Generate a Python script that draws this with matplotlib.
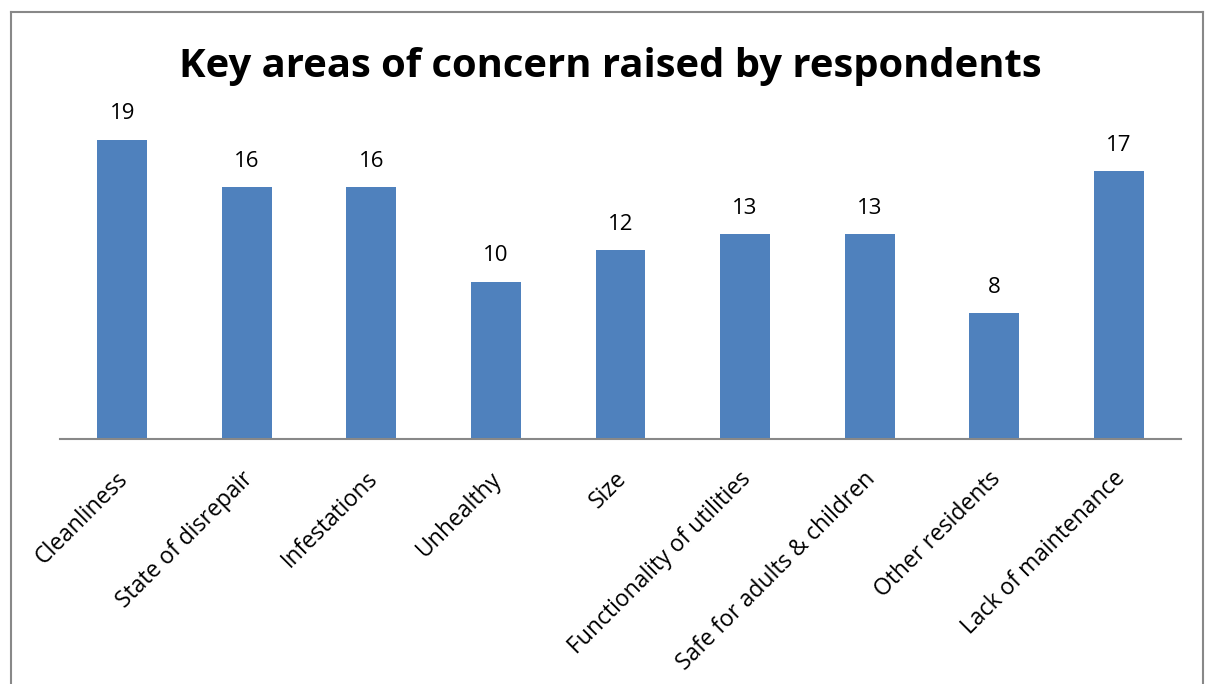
import matplotlib
matplotlib.use("Agg")
import matplotlib.pyplot as plt
from matplotlib.lines import Line2D
from matplotlib.transforms import ScaledTranslation

categories = ["Cleanliness", "State of disrepair", "Infestations", "Unhealthy", "Size",
              "Functionality of utilities", "Safe for adults & children", "Other residents",
              "Lack of maintenance"]
values = [19, 16, 16, 10, 12, 13, 13, 8, 17]

W, H = 1206, 684
fig = plt.figure(figsize=(W / 100, H / 100), dpi=100)
fam = ["Open Sans", "DejaVu Sans"]

ax_left, ax_right, ax_bottom, ax_top = 60, 1181, 439, 124
ax = fig.add_axes([ax_left / W, 1 - ax_bottom / H, (ax_right - ax_left) / W, (ax_bottom - ax_top) / H])
x = list(range(len(categories)))
bars = ax.bar(x, values, width=0.4, color="#4F81BD")
ax.set_xlim(-0.5, len(categories) - 0.5)
ax.set_ylim(0, 20)
for s in ["top", "right", "left"]:
    ax.spines[s].set_visible(False)
ax.spines["bottom"].set_color("#888888")
ax.spines["bottom"].set_linewidth(1.5)
ax.set_yticks([])
ax.set_xticks(x)
ax.set_xticklabels(categories, rotation=45, ha="right", rotation_mode="anchor",
                   fontsize=16.5, family=fam)
ax.tick_params(axis="x", length=0, pad=20)
shift = ScaledTranslation(-6 / 100, 0, fig.dpi_scale_trans)
for lbl in ax.get_xticklabels():
    lbl.set_transform(lbl.get_transform() + shift)
for b, v in zip(bars, values):
    ax.annotate(str(v), (b.get_x() + b.get_width() / 2, v), xytext=(0, 11),
                textcoords="offset points", ha="center", va="bottom", fontsize=16, family=fam)

fig.text(610 / W, 1 - 66 / H, "Key areas of concern raised by respondents", ha="center", va="center",
         fontsize=28.8, fontweight="bold", family=fam)

# outer frame
fx0, fy0, fx1 = 10.5 / W, 1 - 12 / H, 1203 / W
for xs, ys in [([fx0, fx1], [fy0, fy0]), ([fx0, fx0], [fy0, 0]), ([fx1, fx1], [fy0, 0])]:
    fig.add_artist(Line2D(xs, ys, color="#888888", lw=1.5, transform=fig.transFigure))

fig.savefig("out.png", dpi=100)
